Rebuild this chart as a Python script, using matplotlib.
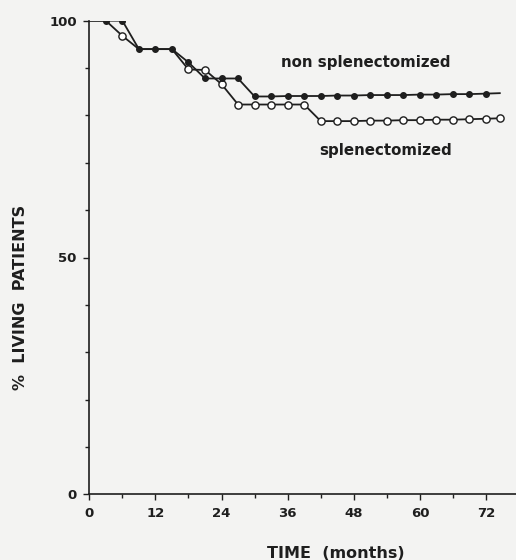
import matplotlib
matplotlib.use('Agg')
import matplotlib.pyplot as plt

# survival data (months, % living)
months = [0, 3, 6, 9, 12, 15, 18, 21, 24, 27, 30, 33, 36, 39, 42, 45,
          48, 51, 54, 57, 60, 63, 66, 69, 72, 74.5]
non_splen = [100, 100, 100, 94.0, 94.0, 94.0, 91.2, 87.8, 87.8, 87.8, 84.0,
             84.0, 84.1, 84.1, 84.1, 84.2, 84.2, 84.3, 84.3, 84.3, 84.4,
             84.4, 84.5, 84.5, 84.6, 84.7]
splen = [100, 100, 96.8, 94.0, 94.0, 94.0, 89.7, 89.6, 86.6, 82.3, 82.3,
         82.3, 82.3, 82.3, 78.8, 78.8, 78.8, 78.9, 78.9, 79.0, 79.0, 79.1,
         79.1, 79.2, 79.3, 79.4]
x_ticks = [0, 12, 24, 36, 48, 60, 72]
y_ticks = [0, 50, 100]

W, H = 516, 560
BG = '#f3f3f2'
INK = '#1e1e1e'

fig = plt.figure(figsize=(W / 100, H / 100), dpi=100, facecolor=BG)
# axes placed in pixel coordinates of the original scan
ax = fig.add_axes([89.3 / W, 1 - 494.3 / H, (W - 89.3) / W, (494.3 - 20.7) / H])
ax.set_facecolor(BG)

# open circles only where they do not sit under the filled dots
open_idx = [2] + list(range(6, len(months)))
ax.plot(months, splen, color=INK, lw=1.3, marker='o', ms=5.2,
        mfc='white', mec=INK, mew=1.0, markevery=open_idx, zorder=2)
ax.plot(months, non_splen, color=INK, lw=1.3, marker='o', ms=4.0,
        mfc=INK, mec=INK, markevery=list(range(1, len(months) - 1)), zorder=3)

ax.set_xlim(0, (W - 89.3) / 5.51)
ax.set_ylim(0, 100)
for s in ['top', 'right']:
    ax.spines[s].set_visible(False)
for s in ['left', 'bottom']:
    ax.spines[s].set_linewidth(1.2)
    ax.spines[s].set_color(INK)

ax.set_xticks(x_ticks)
ax.set_xticks(range(0, 78, 6), minor=True)
ax.set_yticks(y_ticks)
ax.set_yticks(range(0, 101, 10), minor=True)
ax.tick_params(which='both', direction='out', color=INK, width=1.0)
ax.tick_params(which='major', length=4, pad=5, labelsize=9.5)
ax.tick_params(which='minor', length=3)
for lab in ax.get_xticklabels() + ax.get_yticklabels():
    lab.set_fontweight('bold')
    lab.set_color(INK)

fig.text(366 / W, 1 - 63 / H, 'non splenectomized', ha='center', va='center',
         fontsize=10.8, fontweight='bold', color=INK)
fig.text(386 / W, 1 - 151 / H, 'splenectomized', ha='center', va='center',
         fontsize=10.8, fontweight='bold', color=INK)
fig.text(336 / W, 1 - 553 / H, 'TIME  (months)', ha='center', va='center',
         fontsize=11.5, fontweight='bold', color=INK)
fig.text(21 / W, 1 - 297 / H, '%  LIVING  PATIENTS', ha='center', va='center',
         rotation=90, fontsize=11.5, fontweight='bold', color=INK)

fig.savefig('out.png', dpi=100, facecolor=BG)
